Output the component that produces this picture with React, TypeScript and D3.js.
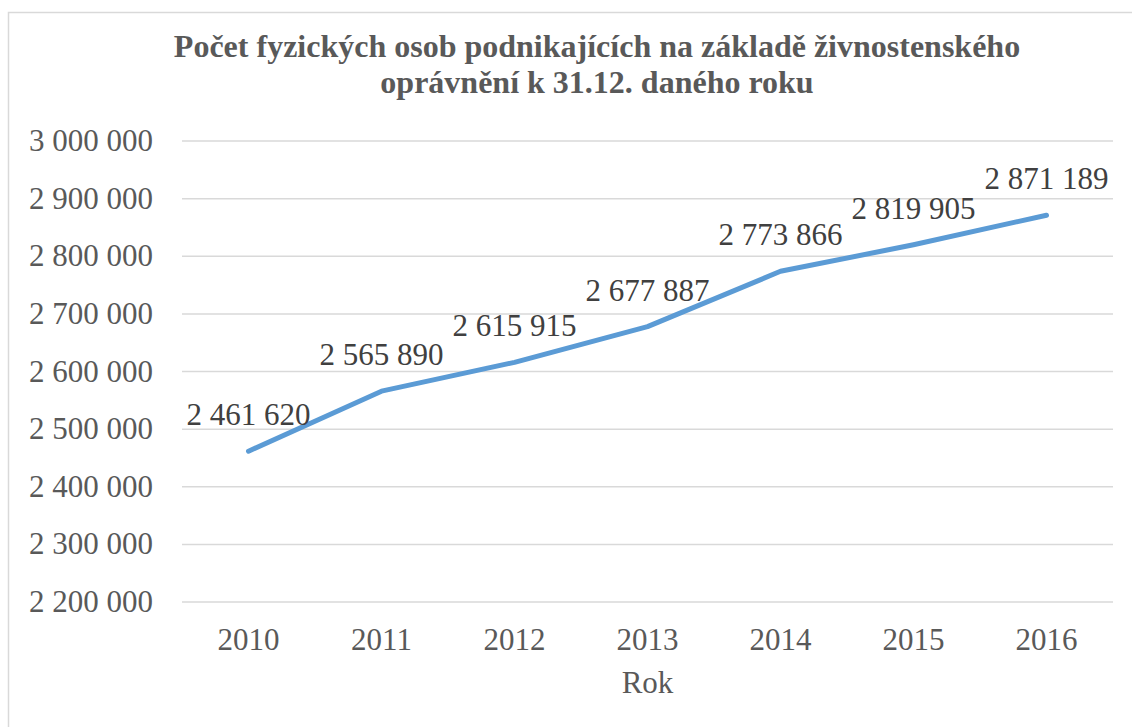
import React from "react";
import * as d3 from "d3";

const years = ["2010", "2011", "2012", "2013", "2014", "2015", "2016"];
const values = [2461620, 2565890, 2615915, 2677887, 2773866, 2819905, 2871189];
const yTicks = [2200000, 2300000, 2400000, 2500000, 2600000, 2700000, 2800000, 2900000, 3000000];
const titleLines = ["Počet fyzických osob podnikajících na základě živnostenského", "oprávnění k 31.12. daného roku"];
const xAxisTitle = "Rok";

const W = 1132;
const H = 727;
const plotLeft = 182;
const plotRight = 1113;
const plotTop = 141;
const plotBottom = 602;
const font = "'Liberation Serif', 'Times New Roman', serif";

const fmt = (v: number) => d3.format(",")(v).replace(/,/g, " ");

export default function App() {
  const x = d3.scaleBand<string>().domain(years).range([plotLeft, plotRight]);
  const y = d3.scaleLinear().domain([2200000, 3000000]).range([plotBottom, plotTop]);
  const line = d3
    .line<number>()
    .x((_, i) => (x(years[i]) as number) + x.bandwidth() / 2)
    .y((d) => y(d));

  return (
    <svg width={W} height={H} style={{ position: "absolute", left: 0, top: 0 }}>
      <rect x={0} y={0} width={W} height={H} fill="#fff" />
      <rect x={8.5} y={12.5} width={W + 20} height={H + 20} fill="#fff" stroke="#d9d9d9" strokeWidth={1.5} />
      {titleLines.map((t, i) => (
        <text key={i} x={597} y={57 + i * 36} textAnchor="middle" fontFamily={font} fontWeight="bold" fontSize={32} fill="#595959">
          {t}
        </text>
      ))}
      {yTicks.map((t) => (
        <g key={t}>
          <line x1={plotLeft} x2={plotRight} y1={y(t)} y2={y(t)} stroke="#d9d9d9" strokeWidth={1.5} />
          <text x={153} y={y(t) + 10} textAnchor="end" fontFamily={font} fontSize={31} fill="#595959">
            {fmt(t)}
          </text>
        </g>
      ))}
      {years.map((yr) => (
        <text key={yr} x={(x(yr) as number) + x.bandwidth() / 2} y={650} textAnchor="middle" fontFamily={font} fontSize={31} fill="#595959">
          {yr}
        </text>
      ))}
      <text x={(plotLeft + plotRight) / 2} y={693} textAnchor="middle" fontFamily={font} fontSize={31} fill="#595959">
        {xAxisTitle}
      </text>
      <path d={line(values) as string} fill="none" stroke="#5b9bd5" strokeWidth={5} strokeLinecap="round" strokeLinejoin="round" />
      {values.map((v, i) => (
        <text key={i} x={(x(years[i]) as number) + x.bandwidth() / 2} y={y(v) - 26} textAnchor="middle" fontFamily={font} fontSize={31} fill="#404040">
          {fmt(v)}
        </text>
      ))}
    </svg>
  );
}
